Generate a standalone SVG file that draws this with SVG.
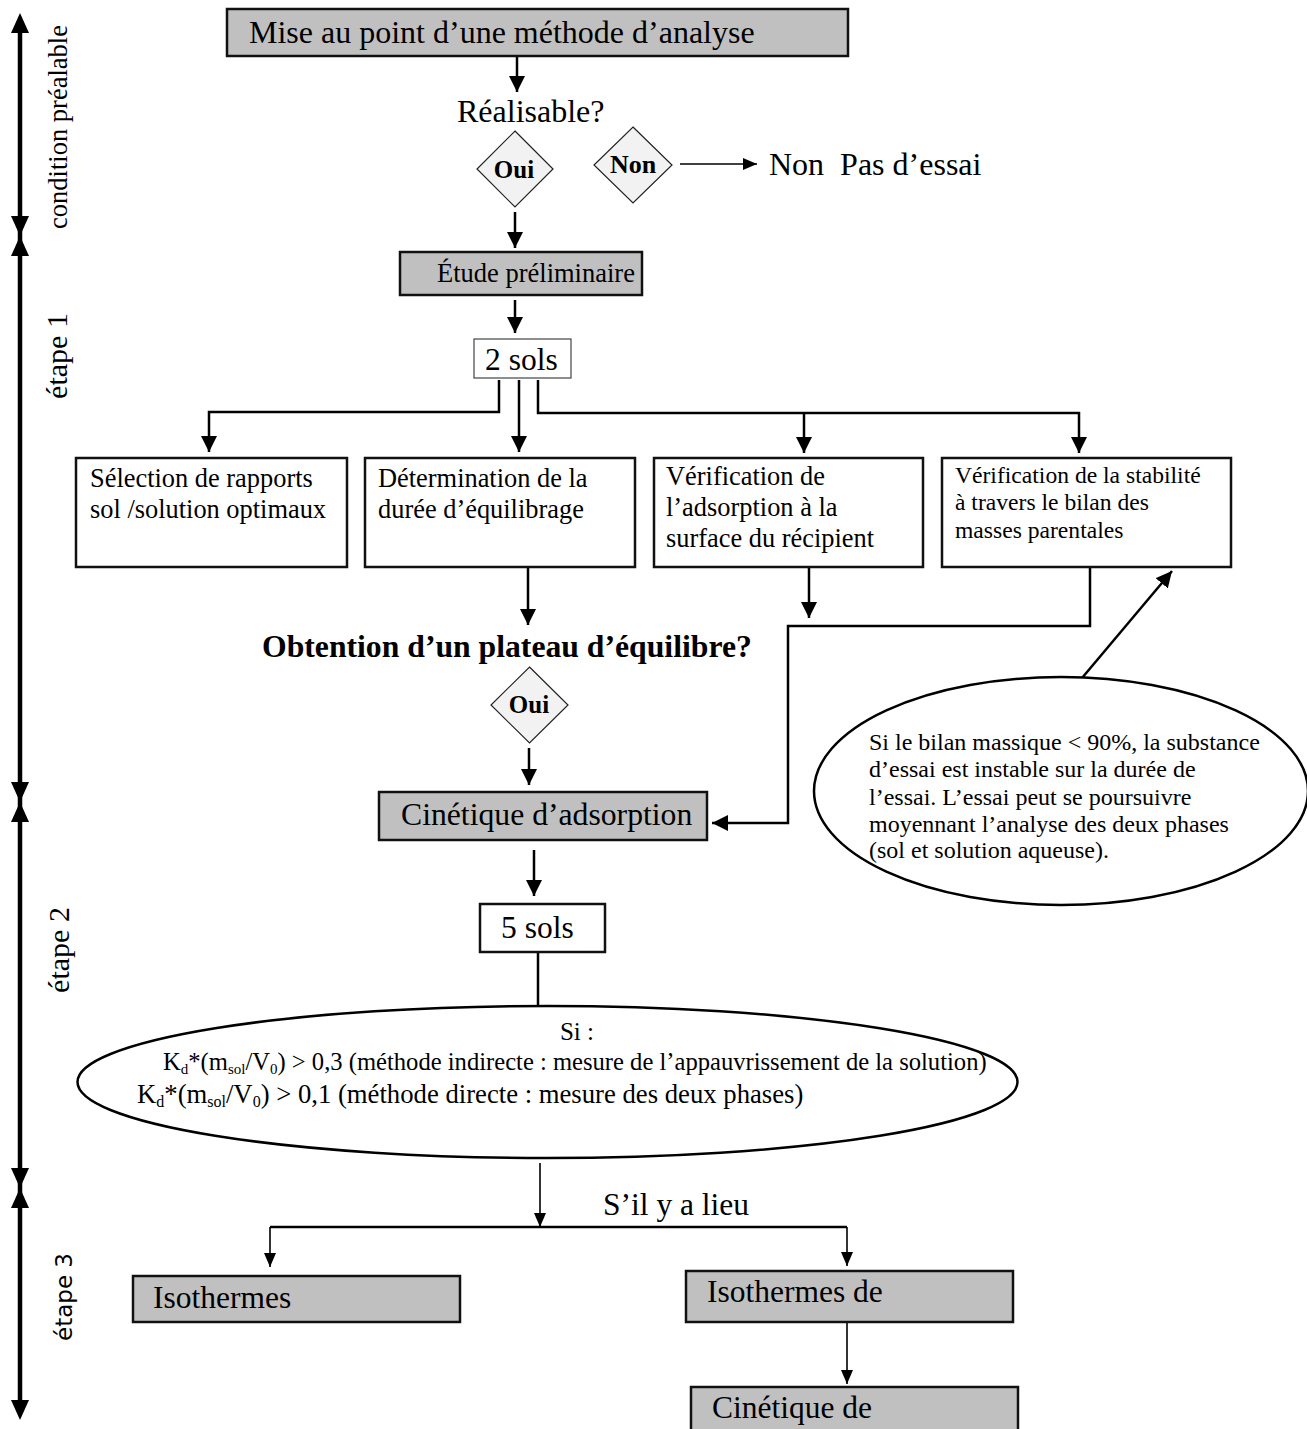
<svg xmlns="http://www.w3.org/2000/svg" width="1307" height="1429" viewBox="0 0 1307 1429">
<style>
text{font-family:"Liberation Serif","Times New Roman",serif;fill:#000}
.gray{fill:#c0c0c0;stroke:#111;stroke-width:2.5}
.box{fill:#fff;stroke:#111;stroke-width:2.5}
.dia{fill:#f2f2f2;stroke:#222;stroke-width:1.2}
.t32{font-size:32px}
.t31{font-size:31.5px}
.t26{font-size:26.4px}
.t24{font-size:24px}
.t23{font-size:23.6px}
.bold{font-weight:bold}
.conn{fill:none;stroke:#000;stroke-width:2.5}
.thin{fill:none;stroke:#000;stroke-width:1.6}
.axis{stroke:#000;stroke-width:4.5}
.lbl{font-size:30px}
</style>
<defs>
<marker id="ah" viewBox="0 0 16 16" refX="16" refY="8" markerWidth="16" markerHeight="16" orient="auto" markerUnits="userSpaceOnUse"><path d="M0,0 L16,8 L0,16 z" fill="#000"/></marker>
<marker id="ahs" viewBox="0 0 14 12" refX="14" refY="6" markerWidth="14" markerHeight="12" orient="auto" markerUnits="userSpaceOnUse"><path d="M0,0 L14,6 L0,12 z" fill="#000"/></marker>
</defs>

<g id="axis">
<line class="axis" x1="20" y1="28" x2="20" y2="1405"/>
<polygon points="20,13 11,33 29,33"/>
<polygon points="20,236 11,216 29,216"/>
<polygon points="20,236 11,256 29,256"/>
<polygon points="20,802 11,782 29,782"/>
<polygon points="20,802 11,822 29,822"/>
<polygon points="20,1188 11,1168 29,1168"/>
<polygon points="20,1188 11,1208 29,1208"/>
<polygon points="20,1420 11,1400 29,1400"/>
<text style="font-size:26.5px" text-anchor="middle" transform="translate(67,127) rotate(-90)">condition préalable</text>
<text class="lbl" text-anchor="middle" transform="translate(67,356) rotate(-90)">étape 1</text>
<text class="lbl" text-anchor="middle" transform="translate(69,950) rotate(-90)">étape 2</text>
<text style="font-family:'DejaVu Sans',Verdana,sans-serif;font-size:23px" text-anchor="middle" transform="translate(72,1297) rotate(-90)">étape 3</text>
</g>

<g id="connectors">
<line class="conn" x1="517" y1="56" x2="517" y2="92" marker-end="url(#ah)"/>
<line class="thin" x1="680" y1="164" x2="757" y2="164" marker-end="url(#ahs)"/>
<line class="conn" x1="515" y1="212" x2="515" y2="248" marker-end="url(#ah)"/>
<line class="conn" x1="515" y1="300" x2="515" y2="333" marker-end="url(#ah)"/>
<path class="conn" d="M499,380 V412 H209 V452" marker-end="url(#ah)"/>
<line class="conn" x1="519" y1="380" x2="519" y2="452" marker-end="url(#ah)"/>
<path class="conn" d="M538,380 V413 H1079 V453" marker-end="url(#ah)"/>
<line class="conn" x1="804" y1="413" x2="804" y2="453" marker-end="url(#ah)"/>
<line class="conn" x1="528" y1="567" x2="528" y2="625" marker-end="url(#ah)"/>
<line class="conn" x1="809" y1="567" x2="809" y2="618" marker-end="url(#ah)"/>
<path class="conn" d="M1090,567 V626 H788 V823 H712" marker-end="url(#ah)"/>
<line class="conn" x1="1082" y1="678" x2="1172" y2="571" marker-end="url(#ah)"/>
<line class="conn" x1="529" y1="748" x2="529" y2="785" marker-end="url(#ah)"/>
<line class="conn" x1="534" y1="850" x2="534" y2="896" marker-end="url(#ah)"/>
<line class="conn" x1="538" y1="952" x2="538" y2="1006"/>
<line class="thin" x1="540" y1="1163" x2="540" y2="1227" marker-end="url(#ahs)"/>
<line class="conn" x1="270" y1="1227" x2="847" y2="1227"/>
<line class="thin" x1="270" y1="1227" x2="270" y2="1267" marker-end="url(#ahs)"/>
<line class="thin" x1="847" y1="1227" x2="847" y2="1266" marker-end="url(#ahs)"/>
<line class="thin" x1="847" y1="1322" x2="847" y2="1384" marker-end="url(#ahs)"/>
</g>

<g id="n-mise">
<rect class="gray" x="227" y="9" width="621" height="47"/>
<text class="t32" x="249" y="43">Mise au point d’une méthode d’analyse</text>
</g>
<g id="n-realisable">
<text class="t32" x="457" y="122">Réalisable?</text>
</g>
<g id="n-oui1">
<polygon class="dia" points="515,131 553,169 515,207 477,169"/>
<text class="bold" style="font-size:25px" x="514" y="178" text-anchor="middle">Oui</text>
</g>
<g id="n-non">
<polygon class="dia" points="633,127 672,165 633,203 594,165"/>
<text class="bold" style="font-size:26px" x="633" y="173" text-anchor="middle">Non</text>
</g>
<g id="n-pasessai">
<text style="font-size:32px;white-space:pre" x="769" y="175">Non  Pas d’essai</text>
</g>
<g id="n-etude">
<rect class="gray" x="400" y="252" width="242" height="43"/>
<text style="font-size:26.5px" x="437" y="282">Étude préliminaire</text>
</g>
<g id="n-2sols">
<rect x="474" y="339" width="97" height="39" fill="#fff" stroke="#444" stroke-width="1.2"/>
<text class="t31" x="485" y="370">2 sols</text>
</g>
<g id="n-selection">
<rect class="box" x="76" y="458" width="271" height="109"/>
<text class="t26" x="90" y="487">Sélection de rapports</text>
<text class="t26" x="90" y="518">sol /solution optimaux</text>
</g>
<g id="n-determination">
<rect class="box" x="365" y="458" width="270" height="109"/>
<text class="t26" x="378" y="487">Détermination de la</text>
<text class="t26" x="378" y="518">durée d’équilibrage</text>
</g>
<g id="n-verif-adsorption">
<rect class="box" x="654" y="458" width="269" height="109"/>
<text class="t26" x="666" y="485">Vérification de</text>
<text class="t26" x="666" y="516">l’adsorption à la</text>
<text class="t26" x="666" y="547">surface du récipient</text>
</g>
<g id="n-verif-stabilite">
<rect class="box" x="942" y="458" width="289" height="109"/>
<text class="t23" x="955" y="483">Vérification de la stabilité</text>
<text class="t23" x="955" y="510">à travers le bilan des</text>
<text class="t23" x="955" y="538">masses parentales</text>
</g>
<g id="n-obtention">
<text class="bold" style="font-size:31.7px" x="262" y="657">Obtention d’un plateau d’équilibre?</text>
</g>
<g id="n-oui2">
<polygon class="dia" points="529.5,667 568,705 529.5,743 491,705"/>
<text class="bold" style="font-size:25px" x="529" y="713" text-anchor="middle">Oui</text>
</g>
<g id="n-note">
<ellipse cx="1061" cy="791" rx="247" ry="114" fill="#fff" stroke="#000" stroke-width="2.5"/>
<text class="t24" x="869" y="750">Si le bilan massique &lt; 90%, la substance</text>
<text class="t24" x="869" y="777">d’essai est instable sur la durée de</text>
<text class="t24" x="869" y="805">l’essai. L’essai peut se poursuivre</text>
<text class="t24" x="869" y="832">moyennant l’analyse des deux phases</text>
<text class="t24" x="869" y="858">(sol et solution aqueuse).</text>
</g>
<g id="n-cinetique">
<rect class="gray" x="379" y="792" width="328" height="48"/>
<text style="font-size:31.7px" x="401" y="825">Cinétique d’adsorption</text>
</g>
<g id="n-5sols">
<rect class="box" x="480" y="904" width="125" height="48"/>
<text style="font-size:31.5px" x="501" y="938">5 sols</text>
</g>
<g id="n-condition">
<ellipse cx="547.5" cy="1082" rx="470" ry="76" fill="#fff" stroke="#000" stroke-width="2.5"/>
<text style="font-size:25px" x="577" y="1040" text-anchor="middle">Si :</text>
<text style="font-size:24.6px" x="163" y="1070">K<tspan style="font-size:15px" dy="4">d</tspan><tspan dy="-4">*(m</tspan><tspan style="font-size:15px" dy="4">sol</tspan><tspan dy="-4">/V</tspan><tspan style="font-size:15px" dy="4">0</tspan><tspan dy="-4">) &gt; 0,3 (méthode indirecte : mesure de l’appauvrissement de la solution)</tspan></text>
<text style="font-size:26.7px" x="137" y="1103">K<tspan style="font-size:16px" dy="4">d</tspan><tspan dy="-4">*(m</tspan><tspan style="font-size:16px" dy="4">sol</tspan><tspan dy="-4">/V</tspan><tspan style="font-size:16px" dy="4">0</tspan><tspan dy="-4">) &gt; 0,1 (méthode directe : mesure des deux phases)</tspan></text>
</g>
<g id="n-silyalieu">
<text class="t31" x="603" y="1215">S’il y a lieu</text>
</g>
<g id="n-isothermes">
<rect class="gray" x="133" y="1276" width="327" height="46"/>
<text class="t31" x="153" y="1308">Isothermes</text>
</g>
<g id="n-isothermes-de">
<rect class="gray" x="686" y="1271" width="327" height="51"/>
<text class="t31" x="707" y="1302">Isothermes de</text>
</g>
<g id="n-cinetique-de">
<rect class="gray" x="691" y="1387" width="327" height="50"/>
<text class="t31" x="712" y="1418">Cinétique de</text>
</g>
</svg>
